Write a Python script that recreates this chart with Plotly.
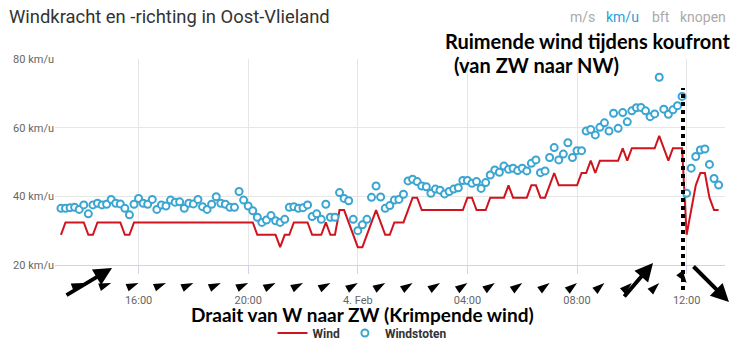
import pandas as pd
import plotly.graph_objects as go

# ---- data ----
times = pd.date_range("2019-02-03 13:10", periods=145, freq="10min")

wind = [
    28.8, 32.4, 32.4, 32.4, 32.4, 32.4, 28.8, 28.8, 32.4, 32.4,
    32.4, 32.4, 32.4, 32.4, 28.8, 28.8, 32.4, 32.4, 32.4, 32.4,
    32.4, 32.4, 32.4, 32.4, 32.4, 32.4, 32.4, 32.4, 32.4, 32.4,
    32.4, 32.4, 32.4, 32.4, 32.4, 32.4, 32.4, 32.4, 32.4, 32.4,
    32.4, 32.4, 32.4, 28.8, 28.8, 28.8, 28.8, 28.8, 25.2, 28.8,
    28.8, 32.4, 32.4, 32.4, 32.4, 28.8, 28.8, 28.8, 32.4, 28.8,
    28.8, 36.0, 36.0, 32.4, 28.8, 25.2, 25.2, 28.8, 32.4, 36.0,
    32.4, 28.8, 28.8, 32.4, 32.4, 32.4, 36.0, 39.6, 39.6, 36.0,
    36.0, 36.0, 36.0, 36.0, 36.0, 36.0, 36.0, 36.0, 36.0, 39.6,
    39.6, 36.0, 36.0, 36.0, 39.6, 39.6, 39.6, 39.6, 43.2, 39.6,
    39.6, 39.6, 39.6, 43.2, 43.2, 39.6, 39.6, 43.2, 46.8, 43.2,
    43.2, 43.2, 43.2, 43.2, 46.8, 46.8, 50.4, 46.8, 50.4, 50.4,
    50.4, 50.4, 50.4, 54.0, 50.4, 54.0, 54.0, 54.0, 54.0, 54.0,
    54.0, 57.6, 54.0, 50.4, 54.0, 54.0, 54.0, 28.8, 36.0, 43.2,
    46.8, 46.8, 39.6, 36.0, 36.0,
]

gusts = [
    36.5, 36.5, 36.7, 36.8, 36.2, 37.5, 34.9, 37.5, 38.0, 37.5,
    37.7, 39.1, 38.0, 37.8, 36.5, 34.6, 37.7, 39.4, 38.0, 37.7,
    39.1, 36.2, 37.5, 37.2, 38.9, 38.3, 38.4, 36.5, 38.0, 37.8,
    39.1, 37.0, 36.2, 37.7, 39.9, 38.0, 37.7, 36.8, 36.8, 41.4,
    38.9, 37.2, 35.8, 33.9, 32.4, 33.1, 34.4, 32.9, 32.4, 33.3,
    36.8, 37.0, 36.5, 36.7, 37.5, 34.1, 34.9, 33.3, 37.7, 33.9,
    33.9, 41.1, 39.4, 38.7, 33.3, 30.0, 31.7, 33.3, 39.7, 43.0,
    39.8, 36.5, 37.3, 38.9, 39.1, 40.6, 44.5, 45.0, 44.3, 43.0,
    42.8, 40.9, 42.1, 41.8, 40.7, 41.4, 42.1, 42.5, 44.6, 44.6,
    43.8, 44.3, 42.3, 44.0, 46.2, 47.7, 47.0, 48.8, 47.9, 48.2,
    47.5, 48.2, 47.4, 49.6, 50.6, 46.9, 47.4, 51.3, 54.2, 50.6,
    52.3, 55.6, 51.3, 53.3, 53.3, 59.0, 59.5, 57.9, 60.1, 61.4,
    59.0, 64.2, 59.8, 64.4, 61.7, 64.9, 65.8, 65.9, 64.9, 63.2,
    64.0, 74.7, 65.4, 63.9, 65.2, 66.4, 69.1, 40.9, 48.2, 51.6,
    53.5, 53.8, 49.3, 45.2, 43.3,
]

# hourly wind-direction arrows (angle: direction the arrow points, degrees clockwise from north)
arrow_times = pd.date_range("2019-02-03 14:00", "2019-02-04 12:00", freq="1h")
arrow_angles = [70, 70, 68, 68, 66, 66, 65, 64, 63, 62,
                60, 60, 58, 58, 56, 56, 55, 54, 52, 50,
                48, 46, 145]

tick_vals = ["2019-02-03 16:00", "2019-02-03 20:00", "2019-02-04 00:00",
             "2019-02-04 04:00", "2019-02-04 08:00", "2019-02-04 12:00"]
tick_text = ["16:00", "20:00", "4. Feb", "04:00", "08:00", "12:00"]
y_ticks = [20, 40, 60, 80]
y_tick_text = [f"{v} km/u" for v in y_ticks]

# ---- layout geometry (pixels) ----
W, H = 732, 349
L, R, T = 55, 7, 59
AXIS_Y = 265        # bottom of main plot
STRIP_BOTTOM = 290  # bottom of arrow strip
B = H - STRIP_BOTTOM
PW, PH = W - L - R, STRIP_BOTTOM - T
SPLIT = (STRIP_BOTTOM - AXIS_Y) / PH
ARROW_ROW = 283


def px(xp):
    return (xp - L) / PW


def py(yp):
    return (STRIP_BOTTOM - yp) / PH


RED = "#d0141f"
BLUE = "#3aa5d1"
X_RANGE = ["2019-02-03 12:57", "2019-02-04 13:24"]

fig = go.Figure()
fig.add_trace(go.Scatter(
    x=times, y=wind, mode="lines", name="<b>Wind</b>",
    line=dict(color=RED, width=2), hoverinfo="skip"))
fig.add_trace(go.Scatter(
    x=times, y=gusts, mode="markers", name="<b>Windstoten</b>",
    marker=dict(symbol="circle", size=7, color="white",
                line=dict(color=BLUE, width=2)),
    cliponaxis=False, hoverinfo="skip"))
fig.add_trace(go.Scatter(
    x=arrow_times, y=[(STRIP_BOTTOM - ARROW_ROW) / (STRIP_BOTTOM - AXIS_Y)] * len(arrow_times),
    xaxis="x2", yaxis="y2", mode="markers",
    marker=dict(symbol="arrow", size=13, angle=arrow_angles, color="black",
                line=dict(width=0)),
    showlegend=False, cliponaxis=False, hoverinfo="skip"))

annotations = [
    dict(text="Windkracht en -richting in Oost-Vlieland", x=px(7), y=py(17),
         xanchor="left", yanchor="middle", showarrow=False,
         font=dict(family="Roboto", size=18.4, color="#333333")),
    dict(text="m/s", x=px(568), y=py(17), xanchor="left", yanchor="middle",
         showarrow=False, font=dict(family="Roboto", size=14, color="#aaaaaa")),
    dict(text="km/u", x=px(604), y=py(17), xanchor="left", yanchor="middle",
         showarrow=False, font=dict(family="Roboto", size=14, color="#2a9fd6")),
    dict(text="bft", x=px(650), y=py(17), xanchor="left", yanchor="middle",
         showarrow=False, font=dict(family="Roboto", size=14, color="#aaaaaa")),
    dict(text="knopen", x=px(678), y=py(17), xanchor="left", yanchor="middle",
         showarrow=False, font=dict(family="Roboto", size=14, color="#aaaaaa")),
    dict(text="<b>Ruimende wind tijdens koufront</b>", x=px(587), y=py(41),
         xanchor="center", yanchor="middle", showarrow=False,
         font=dict(family="Lato", size=20, color="black")),
    dict(text="<b>(van ZW naar NW)</b>", x=px(536), y=py(65),
         xanchor="center", yanchor="middle", showarrow=False,
         font=dict(family="Lato", size=20, color="black")),
    dict(text="<b>Draait van W naar ZW (Krimpende wind)</b>", x=px(362), y=py(314),
         xanchor="center", yanchor="middle", showarrow=False,
         font=dict(family="Lato", size=19, color="black")),
    # big hand-drawn arrows
    dict(text="", x=px(112), y=py(268), ax=65 - 112, ay=296 - 268,
         showarrow=True, arrowhead=2, arrowsize=0.9, arrowwidth=4,
         arrowcolor="black"),
    dict(text="", x=px(653), y=py(263), ax=623 - 653, ay=298 - 263,
         showarrow=True, arrowhead=2, arrowsize=0.9, arrowwidth=4,
         arrowcolor="black"),
    dict(text="", x=px(729), y=py(302), ax=692 - 729, ay=265 - 302,
         showarrow=True, arrowhead=2, arrowsize=0.9, arrowwidth=4,
         arrowcolor="black"),
]
for a in annotations:
    a.setdefault("xref", "paper")
    a.setdefault("yref", "paper")

shapes = [
    dict(type="line", xref="paper", yref="paper",
         x0=px(683), x1=px(683), y0=py(290), y1=py(88),
         line=dict(color="black", width=4, dash="dot")),
]

fig.update_layout(
    width=W, height=H, autosize=False,
    margin=dict(l=L, r=R, t=T, b=B, pad=0, autoexpand=False),
    paper_bgcolor="white", plot_bgcolor="white",
    font=dict(family="Roboto", color="#333333"),
    annotations=annotations, shapes=shapes,
    showlegend=True,
    legend=dict(orientation="h", x=px(362), xanchor="center",
                y=py(333), yanchor="middle", itemwidth=30,
                font=dict(family="Roboto", size=12, color="#333333"),
                bgcolor="rgba(0,0,0,0)"),
    xaxis=dict(type="date", range=X_RANGE, anchor="y",
               tickmode="array", tickvals=tick_vals, ticktext=tick_text,
               showgrid=True, gridcolor="#e6e6e6", gridwidth=1,
               showline=True, linecolor="#ccd6eb", linewidth=1,
               ticks="outside", ticklen=8, tickcolor="#ccd6eb",
               ticklabelstandoff=17,
               tickfont=dict(family="Roboto", size=11, color="#666666"),
               zeroline=False, fixedrange=True),
    yaxis=dict(domain=[SPLIT, 1], range=[20, 80], tickmode="array",
               tickvals=y_ticks, ticktext=y_tick_text, showgrid=True,
               gridcolor="#e6e6e6", zeroline=False, showline=False,
               tickfont=dict(family="Roboto", size=11, color="#666666"),
               fixedrange=True),
    xaxis2=dict(type="date", range=X_RANGE, anchor="y2", matches="x",
                visible=False, fixedrange=True),
    yaxis2=dict(domain=[0, SPLIT], range=[0, 1], visible=False,
                fixedrange=True),
)

fig.write_html("out.html")
